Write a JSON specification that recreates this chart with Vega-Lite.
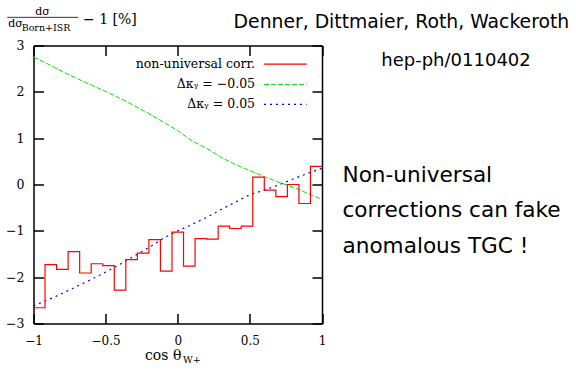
{
  "$schema": "https://vega.github.io/schema/vega-lite/v6.json",
  "width": 288.5,
  "height": 278,
  "autosize": "none",
  "padding": {"left": 33.5, "top": 45.5, "right": 254, "bottom": 47.5},
  "background": "white",
  "config": {"view": {"stroke": null}},
  "datasets": {
    "curves": [
      {"series": "red", "c": -1.00, "v": -2.66},
      {"series": "red", "c": -0.92, "v": -1.73},
      {"series": "red", "c": -0.84, "v": -1.83},
      {"series": "red", "c": -0.76, "v": -1.45},
      {"series": "red", "c": -0.68, "v": -1.91},
      {"series": "red", "c": -0.60, "v": -1.71},
      {"series": "red", "c": -0.52, "v": -1.75},
      {"series": "red", "c": -0.44, "v": -2.28},
      {"series": "red", "c": -0.36, "v": -1.62},
      {"series": "red", "c": -0.28, "v": -1.48},
      {"series": "red", "c": -0.20, "v": -1.19},
      {"series": "red", "c": -0.12, "v": -1.87},
      {"series": "red", "c": -0.04, "v": -1.03},
      {"series": "red", "c": 0.04, "v": -1.76},
      {"series": "red", "c": 0.12, "v": -1.17},
      {"series": "red", "c": 0.20, "v": -1.18},
      {"series": "red", "c": 0.28, "v": -0.90},
      {"series": "red", "c": 0.36, "v": -0.95},
      {"series": "red", "c": 0.44, "v": -0.90},
      {"series": "red", "c": 0.52, "v": 0.16},
      {"series": "red", "c": 0.60, "v": -0.12},
      {"series": "red", "c": 0.68, "v": -0.26},
      {"series": "red", "c": 0.76, "v": 0.0},
      {"series": "red", "c": 0.84, "v": -0.41},
      {"series": "red", "c": 0.92, "v": 0.39},
      {"series": "red", "c": 1.00, "v": 0.39},
      {"series": "green", "c": -1.0, "v": 2.75},
      {"series": "green", "c": -0.9, "v": 2.6},
      {"series": "green", "c": -0.8, "v": 2.44},
      {"series": "green", "c": -0.7, "v": 2.29},
      {"series": "green", "c": -0.6, "v": 2.15},
      {"series": "green", "c": -0.5, "v": 2.01},
      {"series": "green", "c": -0.4, "v": 1.86},
      {"series": "green", "c": -0.3, "v": 1.7},
      {"series": "green", "c": -0.2, "v": 1.53},
      {"series": "green", "c": -0.1, "v": 1.35},
      {"series": "green", "c": 0.0, "v": 1.16},
      {"series": "green", "c": 0.1, "v": 0.94},
      {"series": "green", "c": 0.2, "v": 0.78},
      {"series": "green", "c": 0.3, "v": 0.59},
      {"series": "green", "c": 0.4, "v": 0.43},
      {"series": "green", "c": 0.5, "v": 0.3},
      {"series": "green", "c": 0.6, "v": 0.17},
      {"series": "green", "c": 0.7, "v": 0.05},
      {"series": "green", "c": 0.8, "v": -0.06},
      {"series": "green", "c": 0.9, "v": -0.19},
      {"series": "green", "c": 1.0, "v": -0.32},
      {"series": "blue", "c": -1.0, "v": -2.62},
      {"series": "blue", "c": -0.9, "v": -2.49},
      {"series": "blue", "c": -0.8, "v": -2.35},
      {"series": "blue", "c": -0.7, "v": -2.2},
      {"series": "blue", "c": -0.6, "v": -2.05},
      {"series": "blue", "c": -0.5, "v": -1.89},
      {"series": "blue", "c": -0.4, "v": -1.72},
      {"series": "blue", "c": -0.3, "v": -1.54},
      {"series": "blue", "c": -0.2, "v": -1.36},
      {"series": "blue", "c": -0.1, "v": -1.16},
      {"series": "blue", "c": 0.0, "v": -1.0},
      {"series": "blue", "c": 0.1, "v": -0.86},
      {"series": "blue", "c": 0.2, "v": -0.71},
      {"series": "blue", "c": 0.3, "v": -0.54},
      {"series": "blue", "c": 0.4, "v": -0.38},
      {"series": "blue", "c": 0.5, "v": -0.22},
      {"series": "blue", "c": 0.6, "v": -0.12},
      {"series": "blue", "c": 0.7, "v": -0.01},
      {"series": "blue", "c": 0.8, "v": 0.12},
      {"series": "blue", "c": 0.9, "v": 0.24},
      {"series": "blue", "c": 1.0, "v": 0.35}
    ]
  },
  "data": {"name": "curves"},
  "resolve": {"axis": {"x": "independent", "y": "independent"}},
  "layer": [
    {
      "transform": [{"filter": "datum.series === 'green'"}],
      "mark": {"type": "line", "color": "#00e000", "strokeWidth": 1, "strokeDash": [5, 2], "clip": true},
      "encoding": {
        "x": {"field": "c", "type": "quantitative", "scale": {"domain": [-1, 1], "nice": false, "zero": false}, "axis": null},
        "y": {"field": "v", "type": "quantitative", "scale": {"domain": [-3, 3], "nice": false, "zero": false}, "axis": null}
      }
    },
    {
      "transform": [{"filter": "datum.series === 'blue'"}],
      "mark": {"type": "line", "color": "#0000ff", "strokeWidth": 1.2, "strokeDash": [2, 4], "clip": true},
      "encoding": {
        "x": {"field": "c", "type": "quantitative", "axis": null},
        "y": {"field": "v", "type": "quantitative", "axis": null}
      }
    },
    {
      "transform": [{"filter": "datum.series === 'red'"}],
      "mark": {"type": "line", "color": "#ff0000", "strokeWidth": 1.2, "interpolate": "step-after", "clip": true},
      "encoding": {
        "x": {"field": "c", "type": "quantitative", "axis": {"orient": "bottom", "values": [-1, -0.5, 0, 0.5, 1], "format": "~g", "title": null, "grid": false, "tickSize": -10, "tickWidth": 1.5, "tickColor": "black", "domainColor": "black", "domainWidth": 1.5, "labelPadding": 22, "labelFont": "DejaVu Serif", "labelFontSize": 12, "labelColor": "black", "labelFlush": false, "labelOverlap": false, "labelBound": false}},
        "y": {"field": "v", "type": "quantitative", "axis": {"orient": "left", "values": [-3, -2, -1, 0, 1, 2, 3], "format": "d", "title": null, "grid": false, "tickSize": -10, "tickWidth": 1.5, "tickColor": "black", "domainColor": "black", "domainWidth": 1.5, "labelPadding": 19.5, "labelFont": "DejaVu Serif", "labelFontSize": 12.5, "labelColor": "black", "labelFlush": false, "labelOverlap": false, "labelBound": false}}
      }
    },
    {
      "transform": [{"filter": "datum.series === 'red'"}],
      "mark": {"type": "point", "opacity": 0},
      "encoding": {
        "x": {"field": "c", "type": "quantitative", "axis": {"orient": "top", "values": [-1, -0.5, 0, 0.5, 1], "labels": false, "title": null, "grid": false, "tickSize": -10, "tickWidth": 1.5, "tickColor": "black", "domainColor": "black", "domainWidth": 1.5}},
        "y": {"field": "v", "type": "quantitative", "axis": {"orient": "right", "values": [-3, -2, -1, 0, 1, 2, 3], "labels": false, "title": null, "grid": false, "tickSize": -10, "tickWidth": 1.5, "tickColor": "black", "domainColor": "black", "domainWidth": 1.5}}
      }
    },
    {
      "data": {"values": [{}]},
      "mark": {"type": "text", "text": "non-universal corr.", "align": "right", "baseline": "middle", "font": "DejaVu Serif", "fontSize": 12.5, "color": "black"},
      "encoding": {"x": {"datum": 0.536, "type": "quantitative", "axis": null}, "y": {"datum": 2.60, "type": "quantitative", "axis": null}}
    },
    {
      "data": {"values": [{}]},
      "mark": {"type": "text", "text": "Δκᵧ = −0.05", "align": "right", "baseline": "middle", "font": "DejaVu Serif", "fontSize": 12.5, "color": "black"},
      "encoding": {"x": {"datum": 0.536, "type": "quantitative", "axis": null}, "y": {"datum": 2.16, "type": "quantitative", "axis": null}}
    },
    {
      "data": {"values": [{}]},
      "mark": {"type": "text", "text": "Δκᵧ = 0.05", "align": "right", "baseline": "middle", "font": "DejaVu Serif", "fontSize": 12.5, "color": "black"},
      "encoding": {"x": {"datum": 0.536, "type": "quantitative", "axis": null}, "y": {"datum": 1.73, "type": "quantitative", "axis": null}}
    },
    {
      "data": {"values": [{}]},
      "mark": {"type": "rule", "color": "#ff0000", "strokeWidth": 1.2},
      "encoding": {"x": {"datum": 0.598, "type": "quantitative", "axis": null}, "x2": {"datum": 0.894}, "y": {"datum": 2.60, "type": "quantitative", "axis": null}}
    },
    {
      "data": {"values": [{}]},
      "mark": {"type": "rule", "color": "#00e000", "strokeWidth": 1, "strokeDash": [5, 2]},
      "encoding": {"x": {"datum": 0.598, "type": "quantitative", "axis": null}, "x2": {"datum": 0.894}, "y": {"datum": 2.16, "type": "quantitative", "axis": null}}
    },
    {
      "data": {"values": [{}]},
      "mark": {"type": "rule", "color": "#0000ff", "strokeWidth": 1.2, "strokeDash": [2, 4]},
      "encoding": {"x": {"datum": 0.598, "type": "quantitative", "axis": null}, "x2": {"datum": 0.894}, "y": {"datum": 1.73, "type": "quantitative", "axis": null}}
    },
    {
      "data": {"values": [{}]},
      "mark": {"type": "text", "text": "dσ", "align": "center", "baseline": "middle", "font": "DejaVu Serif", "fontSize": 11, "color": "black"},
      "encoding": {"x": {"datum": -0.938, "type": "quantitative", "axis": null}, "y": {"datum": 3.723, "type": "quantitative", "axis": null}}
    },
    {
      "data": {"values": [{}]},
      "mark": {"type": "rule", "color": "black", "strokeWidth": 0.8},
      "encoding": {"x": {"datum": -1.182, "type": "quantitative", "axis": null}, "x2": {"datum": -0.69}, "y": {"datum": 3.608, "type": "quantitative", "axis": null}}
    },
    {
      "data": {"values": [{}]},
      "mark": {"type": "text", "text": "dσ", "align": "left", "baseline": "middle", "font": "DejaVu Serif", "fontSize": 11, "color": "black"},
      "encoding": {"x": {"datum": -1.175, "type": "quantitative", "axis": null}, "y": {"datum": 3.464, "type": "quantitative", "axis": null}}
    },
    {
      "data": {"values": [{}]},
      "mark": {"type": "text", "text": "Born+ISR", "align": "left", "baseline": "middle", "font": "DejaVu Serif", "fontSize": 9.5, "color": "black"},
      "encoding": {"x": {"datum": -1.082, "type": "quantitative", "axis": null}, "y": {"datum": 3.382, "type": "quantitative", "axis": null}}
    },
    {
      "data": {"values": [{}]},
      "mark": {"type": "text", "text": "− 1 [%]", "align": "left", "baseline": "middle", "font": "DejaVu Serif", "fontSize": 14, "color": "black"},
      "encoding": {"x": {"datum": -0.657, "type": "quantitative", "axis": null}, "y": {"datum": 3.561, "type": "quantitative", "axis": null}}
    },
    {
      "data": {"values": [{}]},
      "mark": {"type": "text", "text": "cos θ", "align": "left", "baseline": "alphabetic", "font": "DejaVu Serif", "fontSize": 14, "color": "black"},
      "encoding": {"x": {"datum": -0.227, "type": "quantitative", "axis": null}, "y": {"datum": -3.785, "type": "quantitative", "axis": null}}
    },
    {
      "data": {"values": [{}]},
      "mark": {"type": "text", "text": "W+", "align": "left", "baseline": "alphabetic", "font": "DejaVu Serif", "fontSize": 9.5, "color": "black"},
      "encoding": {"x": {"datum": 0.036, "type": "quantitative", "axis": null}, "y": {"datum": -3.85, "type": "quantitative", "axis": null}}
    },
    {
      "data": {"values": [{}]},
      "mark": {"type": "text", "text": "Denner, Dittmaier, Roth, Wackeroth", "align": "right", "baseline": "alphabetic", "font": "DejaVu Sans", "fontSize": 18.8, "color": "black"},
      "encoding": {"x": {"datum": 2.714, "type": "quantitative", "axis": null}, "y": {"datum": 3.371, "type": "quantitative", "axis": null}}
    },
    {
      "data": {"values": [{}]},
      "mark": {"type": "text", "text": "hep-ph/0110402", "align": "center", "baseline": "alphabetic", "font": "DejaVu Sans", "fontSize": 18, "color": "black"},
      "encoding": {"x": {"datum": 1.929, "type": "quantitative", "axis": null}, "y": {"datum": 2.564, "type": "quantitative", "axis": null}}
    },
    {
      "data": {"values": [{}]},
      "mark": {"type": "text", "text": ["Non-universal", "corrections can fake", "anomalous TGC !"], "lineHeight": 35.5, "align": "left", "baseline": "alphabetic", "font": "DejaVu Sans", "fontSize": 21.6, "color": "black"},
      "encoding": {"x": {"datum": 1.142, "type": "quantitative", "axis": null}, "y": {"datum": 0.055, "type": "quantitative", "axis": null}}
    }
  ]
}
